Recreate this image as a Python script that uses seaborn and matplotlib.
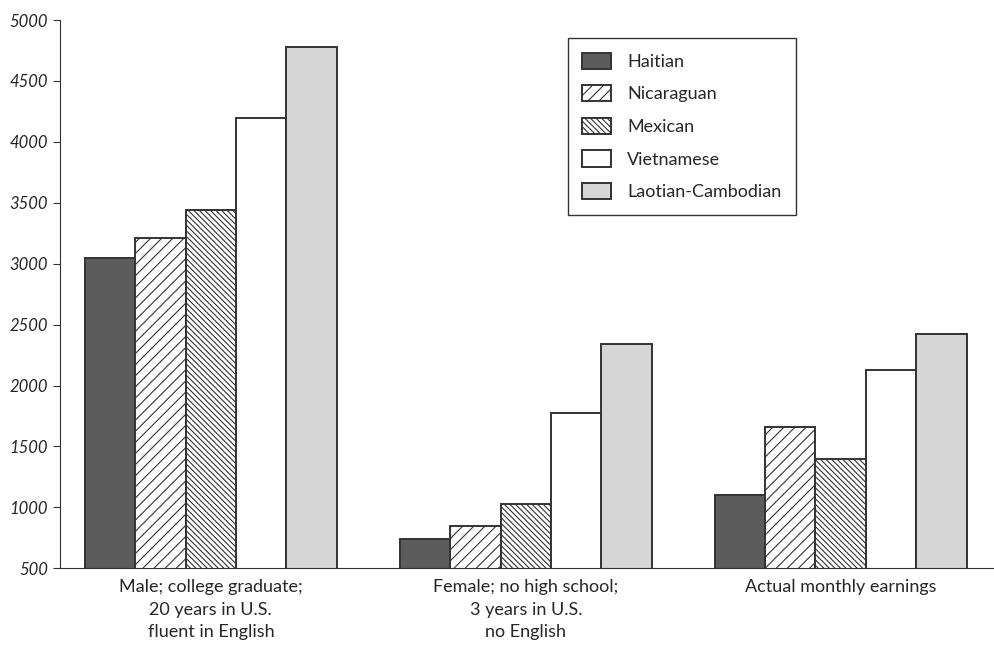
import seaborn as sns
import matplotlib.pyplot as plt
import pandas as pd

# データ
groups = ['Male; college graduate;\n20 years in U.S.\nfluent in English',
          'Female; no high school;\n3 years in U.S.\nno English',
          'Actual monthly earnings']
nationalities = ['Haitian', 'Nicaraguan', 'Mexican', 'Vietnamese', 'Laotian-Cambodian']
haitian = [3050, 740, 1100]
nicaraguan = [3210, 850, 1660]
mexican = [3440, 1025, 1395]
vietnamese = [4195, 1775, 2125]
laotian = [4780, 2340, 2420]
yticks = [500, 1000, 1500, 2000, 2500, 3000, 3500, 4000, 4500, 5000]

series = [haitian, nicaraguan, mexican, vietnamese, laotian]
rows = []
for nat, vals in zip(nationalities, series):
    for g, v in zip(groups, vals):
        rows.append({'Group': g, 'Nationality': nat, 'Earnings': v})
df = pd.DataFrame(rows)

colors = {'Haitian': '#5c5c5c', 'Nicaraguan': 'white', 'Mexican': 'white',
          'Vietnamese': 'white', 'Laotian-Cambodian': '#d6d6d6'}
hatches = {'Haitian': '', 'Nicaraguan': '///', 'Mexican': '\\' * 6,
           'Vietnamese': '', 'Laotian-Cambodian': ''}

sns.set_style('ticks')
plt.rcParams['font.family'] = ['Lato', 'DejaVu Sans']
plt.rcParams['hatch.linewidth'] = 0.8

fig = plt.figure(figsize=(9.95, 6.48), dpi=100)
ax = fig.add_axes([0.060, 0.123, 0.94, 0.846])

sns.barplot(data=df, x='Group', y='Earnings', hue='Nationality',
            order=groups, hue_order=nationalities, palette=colors,
            width=0.8, gap=0, edgecolor='#333333', linewidth=1.4,
            ax=ax, legend=False)

for cont, nat in zip(ax.containers, nationalities):
    for bar in cont.patches:
        bar.set_hatch(hatches[nat])
        bar.set_edgecolor('#333333')

ax.set_ylim(500, 5000)
ax.set_xlim(-0.48, 2.49)
ax.set_yticks(yticks)
ax.set_yticklabels([str(t) for t in yticks], fontsize=12, style='italic')
ax.tick_params(axis='x', length=0, labelsize=13, pad=8)
ax.tick_params(axis='y', length=5, color='#333333')
for lab in ax.get_xticklabels():
    lab.set_linespacing(1.5)
ax.set_xlabel('')
ax.set_ylabel('')
sns.despine(ax=ax)
ax.spines['left'].set_color('#333333')
ax.spines['bottom'].set_color('#333333')

handles = [c.patches[0] for c in ax.containers]
leg = ax.legend(handles, nationalities, loc='upper left',
                bbox_to_anchor=(0.543, 0.967), fontsize=13,
                frameon=True, fancybox=False, framealpha=1,
                edgecolor='#333333', handlelength=1.6, handleheight=1.0,
                labelspacing=0.85, borderpad=0.8, handletextpad=0.9,
                borderaxespad=0)
leg.get_frame().set_linewidth(1.0)

plt.savefig('out.png', dpi=100)
